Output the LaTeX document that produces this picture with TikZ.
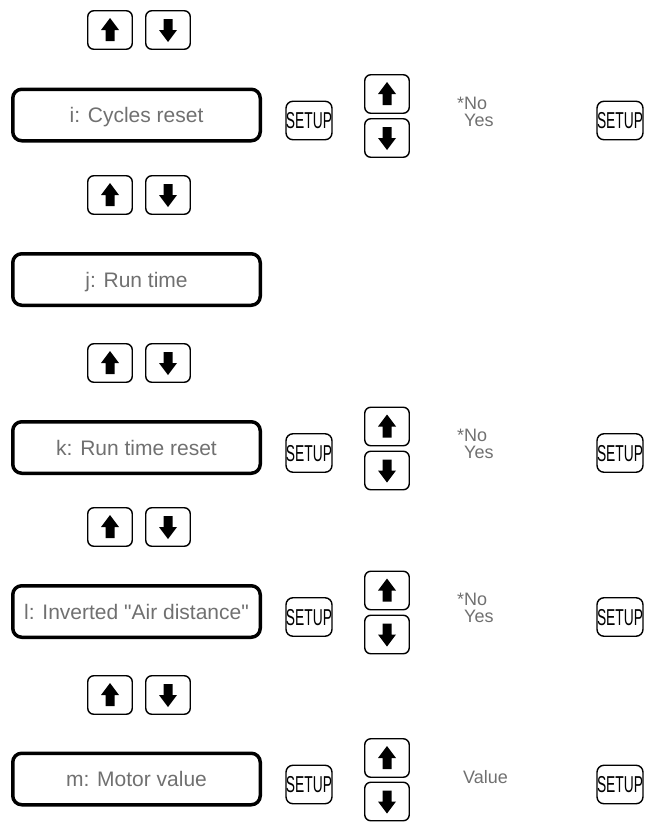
\documentclass[tikz,border=0pt]{standalone}
\usepackage{fontspec}
\usepackage{graphicx}
\setmainfont{Liberation Sans}[Ligatures=TeXOff]
\definecolor{txtgray}{RGB}{112,112,112}
\tikzset{
  menubox/.style={draw, line width=3.5pt, rounded corners=9pt, minimum width=247.5pt,
    minimum height=51.5pt, inner sep=0pt, text=txtgray,
    font=\fontsize{21}{21}\selectfont, text height=15pt, text depth=0pt},
  keybtn/.style={draw, line width=1.4pt, rounded corners=6pt, minimum width=44.5pt,
    minimum height=38.5pt, inner sep=0pt},
  upkey/.style={keybtn, path picture={
    \fill[black, sharp corners] (path picture bounding box.center) ++(0pt,12pt) -- ++(9pt,-12pt)
      -- ++(-4.5pt,0pt) -- ++(0pt,-11pt) -- ++(-9pt,0pt) -- ++(0pt,11pt) -- ++(-4.5pt,0pt) -- cycle;}},
  downkey/.style={keybtn, path picture={
    \fill[black, sharp corners] (path picture bounding box.center) ++(0pt,-12pt) -- ++(9pt,12pt)
      -- ++(-4.5pt,0pt) -- ++(0pt,11pt) -- ++(-9pt,0pt) -- ++(0pt,-11pt) -- ++(-4.5pt,0pt) -- cycle;}},
  setupkey/.style={draw, line width=1.4pt, rounded corners=7pt, minimum width=46pt,
    minimum height=38.5pt, inner sep=0pt, font=\fontsize{23}{23}\selectfont,
    text height=16.5pt, text depth=0pt},
  opttext/.style={anchor=base west, inner sep=0pt, text=txtgray, font=\fontsize{18}{18}\selectfont},
}
\newcommand{\setuplabel}{\scalebox{0.6}[1]{SETUP}}
\begin{document}
\begin{tikzpicture}[x=1pt,y=-1pt]
\useasboundingbox (0,0) rectangle (646,822);

% navigation pairs
\node[upkey]   (p1u) at (110,30) {};
\node[downkey] (p1d) at (168,30) {};
\node[upkey]   (p2u) at (110,195) {};
\node[downkey] (p2d) at (168,195) {};
\node[upkey]   (p3u) at (110,363) {};
\node[downkey] (p3d) at (168,363) {};
\node[upkey]   (p4u) at (110,527) {};
\node[downkey] (p4d) at (168,527) {};
\node[upkey]   (p5u) at (110,695) {};
\node[downkey] (p5d) at (168,695) {};

% row i
\node[menubox] (bi) at (136.5,115) {i: Cycles reset};
\node[setupkey] (si) at (309,120.5) {\setuplabel};
\node[upkey] (ui) at (387,94) {};
\node[downkey] (di) at (387,138) {};
\node[opttext] (noi) at (457,109) {*No};
\node[opttext] (yesi) at (464,126) {Yes};
\node[setupkey] (ri) at (620,120.5) {\setuplabel};

% row j
\node[menubox] (bj) at (136.5,279.5) {j: Run time};

% row k
\node[menubox] (bk) at (136.5,447.5) {k: Run time reset};
\node[setupkey] (sk) at (309,453) {\setuplabel};
\node[upkey] (uk) at (387,426.5) {};
\node[downkey] (dk) at (387,470.5) {};
\node[opttext] (nok) at (457,441.5) {*No};
\node[opttext] (yesk) at (464,458.5) {Yes};
\node[setupkey] (rk) at (620,453) {\setuplabel};

% row l
\node[menubox] (bl) at (136.5,611.5) {l: Inverted "Air distance"};
\node[setupkey] (sl) at (309,617) {\setuplabel};
\node[upkey] (ul) at (387,590.5) {};
\node[downkey] (dl) at (387,634.5) {};
\node[opttext] (nol) at (457,605.5) {*No};
\node[opttext] (yesl) at (464,622.5) {Yes};
\node[setupkey] (rl) at (620,617) {\setuplabel};

% row m
\node[menubox] (bm) at (136.5,779) {m: Motor value};
\node[setupkey] (sm) at (309,784.5) {\setuplabel};
\node[upkey] (um) at (387,758) {};
\node[downkey] (dm) at (387,801.5) {};
\node[opttext] (valm) at (463,783) {Value};
\node[setupkey] (rm) at (620,784.5) {\setuplabel};
\end{tikzpicture}
\end{document}
